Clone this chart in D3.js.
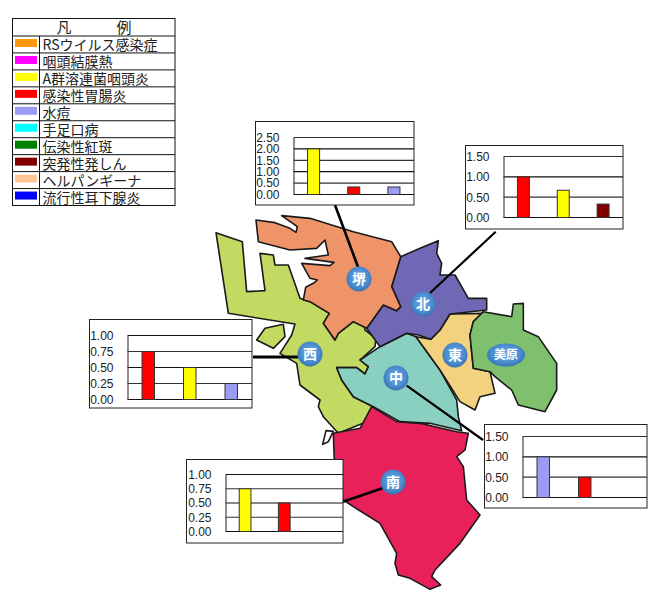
<!DOCTYPE html>
<html><head><meta charset="utf-8">
<style>html,body{margin:0;padding:0;background:#fff}svg{display:block}text{font-family:"Liberation Sans",Arial,sans-serif}</style>
<script src="https://cdn.jsdelivr.net/npm/d3@7"></script>
</head><body><div id="c"></div>
<script>
// ---------- data ----------
const legendTitle = "凡　　　例";
const diseases = ["RSウイルス感染症","咽頭結膜熱","A群溶連菌咽頭炎","感染性胃腸炎","水痘","手足口病","伝染性紅斑","突発性発しん","ヘルパンギーナ","流行性耳下腺炎"];
const diseaseColors = ["#FF9A10","#FF00FF","#FFFF00","#FF0000","#9C9CF4","#00FFFF","#008000","#800000","#FFC896","#0000FF"];

const sakaiDiseases = ["A群溶連菌咽頭炎","感染性胃腸炎","水痘"];
const sakaiValues = [2.0,0.33,0.33];
const sakaiTicks = [0,0.5,1,1.5,2,2.5];
const kitaDiseases = ["感染性胃腸炎","A群溶連菌咽頭炎","突発性発しん"];
const kitaValues = [1.0,0.67,0.33];
const kitaTicks = [0,0.5,1,1.5];
const nishiDiseases = ["感染性胃腸炎","A群溶連菌咽頭炎","水痘"];
const nishiValues = [0.75,0.5,0.25];
const nishiTicks = [0,0.25,0.5,0.75,1];
const minamiDiseases = ["A群溶連菌咽頭炎","感染性胃腸炎"];
const minamiValues = [0.75,0.5];
const minamiTicks = [0,0.25,0.5,0.75,1];
const nakaDiseases = ["水痘","感染性胃腸炎"];
const nakaValues = [1.0,0.5];
const nakaTicks = [0,0.5,1,1.5];

// ---------- map outlines (traced, in a 3x map grid) ----------
const outlineSakai = [[138,60],[195,68],[240,85],[258,97],[262,80],[215,47],[300,55],[430,95],[545,125],[572,170],[545,260],[572,320],[560,332],[520,315],[470,385],[430,365],[385,400],[375,420],[340,370],[358,340],[300,305],[280,300],[287,262],[310,250],[322,240],[300,235],[275,190],[360,197],[372,187],[285,175],[355,165],[345,120],[320,145],[240,150],[145,125]];
const outlineKita = [[572,170],[630,145],[685,122],[680,160],[695,190],[690,225],[735,225],[775,295],[830,295],[830,330],[720,342],[690,390],[662,418],[625,405],[590,400],[510,440],[470,385],[520,315],[560,332],[572,320],[545,260]];
const outlineHigashi = [[820,340],[790,365],[780,405],[790,505],[840,515],[855,580],[810,590],[795,630],[750,605],[690,510],[618,410],[662,418],[690,390],[720,342]];
const outlineMihara = [[820,335],[905,350],[910,312],[940,310],[940,390],[985,410],[1040,490],[1040,570],[1005,635],[925,615],[905,570],[855,530],[840,515],[790,505],[780,405],[790,365]];
const outlineNaka = [[590,400],[618,410],[690,510],[740,600],[745,650],[755,692],[660,670],[570,665],[490,620],[430,590],[395,540],[380,503],[440,503],[465,522],[475,500],[450,480],[510,440]];
const outlineNishi = [[18,98],[97,125],[110,275],[165,272],[150,160],[190,165],[195,195],[235,195],[270,295],[300,305],[358,340],[340,370],[375,420],[385,400],[430,365],[460,360],[465,390],[498,415],[495,440],[450,480],[475,500],[465,522],[440,503],[380,503],[395,540],[430,590],[490,620],[470,665],[385,700],[340,650],[325,620],[330,600],[270,555],[260,490],[210,460],[245,405],[255,372],[55,340]];
const outlineIsland = [[140,420],[165,385],[220,373],[225,410],[190,445]];
const outlineMinami = [[485,620],[560,665],[630,670],[740,695],[775,700],[765,750],[740,770],[760,800],[770,900],[810,945],[750,1030],[675,1110],[665,1130],[692,1155],[660,1168],[600,1135],[565,1125],[555,1090],[560,1060],[510,970],[430,920],[400,900],[375,840],[370,700],[450,685]];
const outlineSliver = [[348,692],[370,694],[355,725],[338,733]];

const wardBadges = [
  {name:"堺",x:359,y:279,rx:12.5,ry:12.5},{name:"北",x:423,y:304,rx:12.5,ry:12.5},
  {name:"西",x:310,y:354,rx:12.5,ry:12.5},{name:"中",x:396,y:378,rx:12.5,ry:12.5},
  {name:"東",x:455,y:355,rx:12.5,ry:12.5},{name:"美原",x:506,y:355,rx:19,ry:11.5},
  {name:"南",x:393,y:482,rx:12.5,ry:12.5}];

// ---------- drawing ----------
const W=660,H=613;
const svg=d3.select("#c").append("svg").attr("width",W).attr("height",H);
const defs=svg.append("defs");
const grad=defs.append("radialGradient").attr("id","badge").attr("cx","50%").attr("cy","45%").attr("r","55%");
grad.append("stop").attr("offset","0%").attr("stop-color","#74ACE4");
grad.append("stop").attr("offset","70%").attr("stop-color","#4A8CD0");
grad.append("stop").attr("offset","100%").attr("stop-color","#3A72AE");

const mapX=d3.scaleLinear().domain([0,3]).range([210,211]);
const mapY=d3.scaleLinear().domain([0,3]).range([200,201]);
const outline=d3.line().x(d=>mapX(d[0])).y(d=>mapY(d[1])).curve(d3.curveLinearClosed);
const shapes=[[outlineNishi,"#C3DA62"],[outlineIsland,"#C3DA62"],[outlineMinami,"#E8215A"],[outlineNaka,"#8AD0C0"],[outlineHigashi,"#F2D27E"],[outlineMihara,"#7FC06E"],[outlineKita,"#7068B4"],[outlineSakai,"#EE9468"],[outlineSliver,"#FFFFFF"]];
svg.append("g").selectAll("path").data(shapes).join("path")
  .attr("d",d=>outline(d[0])).attr("fill",d=>d[1]).attr("stroke","#1a1a1a").attr("stroke-width",1.6).attr("stroke-linejoin","round");

// leader lines
const leaders=[[335,205,358,267,2.6],[495.7,231.7,430,293,2.2],[253,357,298,357,2.8],[406.7,385.7,483,440,2.2],[343,501.7,383,488,2.8]];
svg.append("g").selectAll("line").data(leaders).join("line")
  .attr("x1",d=>d[0]).attr("y1",d=>d[1]).attr("x2",d=>d[2]).attr("y2",d=>d[3]).attr("stroke","#000").attr("stroke-width",d=>d[4]);

const colorOf=d3.scaleOrdinal().domain(diseases).range(diseaseColors);
const fmt=d3.format(".2f");
function panel(cfg){
  const g=svg.append("g");
  g.append("rect").attr("x",cfg.box[0]).attr("y",cfg.box[1]).attr("width",cfg.box[2]-cfg.box[0]).attr("height",cfg.box[3]-cfg.box[1])
    .attr("fill","#fff").attr("stroke","#222").attr("stroke-width",1);
  const y=d3.scaleLinear().domain([0,d3.max(cfg.ticks)]).range([cfg.y0,cfg.y1]);
  const x=d3.scaleBand().domain([0,1,2]).range([cfg.left,cfg.box[2]]).paddingInner(0.7).paddingOuter(0.35);
  g.append("g").selectAll("line").data(cfg.ticks).join("line")
    .attr("x1",cfg.left).attr("x2",cfg.box[2]).attr("y1",d=>y(d)).attr("y2",d=>y(d))
    .attr("stroke",(d,i)=>i%2?"#333":"#111").attr("stroke-width",1.2);
  g.append("g").selectAll("rect").data(cfg.values).join("rect")
    .attr("x",(d,i)=>x(i)).attr("width",x.bandwidth()).attr("y",d=>y(d)).attr("height",d=>y(0)-y(d))
    .attr("fill",(d,i)=>colorOf(cfg.names[i])).attr("stroke","#333").attr("stroke-width",1);
  const ax=g.append("g").attr("transform",`translate(${cfg.left},0)`)
    .call(d3.axisLeft(y).tickValues(cfg.ticks).tickFormat(fmt).tickSize(0).tickPadding(14));
  ax.select(".domain").attr("stroke","#444").attr("stroke-width",1.2);
  ax.selectAll("text").attr("font-size",12).attr("fill","#222").style("font-family",'"Liberation Sans",Arial,sans-serif');
}
panel({box:[255.5,121.5,414,205],left:293.5,y0:194.5,y1:137.5,ticks:sakaiTicks,values:sakaiValues,names:sakaiDiseases});
panel({box:[465.5,145.5,623,229],left:503.5,y0:217.5,y1:156.5,ticks:kitaTicks,values:kitaValues,names:kitaDiseases});
panel({box:[89.5,319.5,252,408],left:127.5,y0:399.5,y1:335.5,ticks:nishiTicks,values:nishiValues,names:nishiDiseases});
panel({box:[186.5,459.5,343,543],left:225.5,y0:531.5,y1:474.5,ticks:minamiTicks,values:minamiValues,names:minamiDiseases});
panel({box:[484.5,424.5,647,508],left:522.5,y0:497.5,y1:436.5,ticks:nakaTicks,values:nakaValues,names:nakaDiseases});

// ward badges
const b=svg.append("g").selectAll("g").data(wardBadges).join("g").attr("transform",d=>`translate(${d.x},${d.y})`);
b.append("ellipse").attr("rx",d=>d.rx).attr("ry",d=>d.ry).attr("fill","url(#badge)");
b.append("text").attr("text-anchor","middle").attr("dy","0.36em").attr("fill","#fff").attr("font-weight",700)
  .attr("font-size",d=>d.name.length>1?12:14).style("font-family",'"Noto Sans CJK JP"').text(d=>d.name);

// legend
const lx0=12.5,lx1=175,ly0=18.5,headH=17.5,ly1=205.5;
const ly=d3.scaleBand().domain(diseases).range([ly0+headH,ly1]);
const leg=svg.append("g");
leg.append("rect").attr("x",lx0).attr("y",ly0).attr("width",lx1-lx0).attr("height",ly1-ly0).attr("fill","#fff").attr("stroke","#111");
leg.append("text").attr("x",94).attr("y",ly0+14).attr("text-anchor","middle").attr("font-size",15).attr("fill","#222")
  .style("font-family",'"Noto Sans CJK JP"').text(legendTitle);
leg.append("line").attr("x1",39.5).attr("x2",39.5).attr("y1",ly0+headH).attr("y2",ly1).attr("stroke","#111");
const row=leg.selectAll("g.r").data(diseases).join("g").attr("class","r").attr("transform",d=>`translate(0,${ly(d)})`);
row.append("line").attr("x1",lx0).attr("x2",lx1).attr("y1",0).attr("y2",0).attr("stroke","#111");
row.append("rect").attr("x",15).attr("y",3).attr("width",22).attr("height",8).attr("fill",d=>colorOf(d));
row.append("text").attr("x",42.5).attr("y",14).attr("font-size",14).attr("fill","#222")
  .style("font-family",'"Noto Sans CJK JP"').text(d=>d);
</script></body></html>
